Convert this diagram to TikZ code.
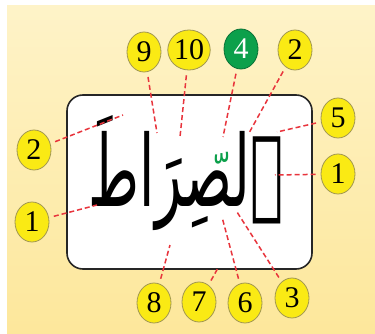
\documentclass[tikz,border=0pt]{standalone}
\usepackage{graphicx}
\usepackage{fontspec}
\setmainfont{Liberation Serif}
\newfontfamily\arabicfont[Script=Arabic]{DejaVu Sans}
\TeXXeTstate=1
\usetikzlibrary{shapes.geometric}
\definecolor{cbgtop}{RGB}{254,243,200}
\definecolor{cbgbot}{RGB}{253,231,155}
\definecolor{cball}{RGB}{250,234,20}
\definecolor{cedge}{RGB}{160,150,80}
\definecolor{cgreen}{RGB}{12,160,75}
\definecolor{cdash}{RGB}{232,52,60}
\tikzset{
  ball/.style={ellipse, fill=cball, draw=cedge, line width=0.8pt,
    minimum width=34pt, minimum height=40pt, inner sep=0pt,
    font=\fontsize{30}{30}\selectfont},
  greenball/.style={ball, fill=cgreen, draw=cgreen!70!black, text=white},
  pointer/.style={cdash, line width=1.5pt, dash pattern=on 5pt off 3pt, shorten <=5pt},
  wordbox/.style={draw=black!85, fill=white, line width=1.6pt, rounded corners=16pt}
}

\begin{document}
\begin{tikzpicture}[x=1pt,y=-1pt]
    % background
    \useasboundingbox (0,0) rectangle (375,334);
    \fill[white] (0,0) rectangle (375,334);
    \shade[top color=cbgtop, bottom color=cbgbot] (7,6) rectangle (375,334);
    % word in its box
    \node[wordbox, minimum width=245pt, minimum height=174pt] (box) at (189.5,182) {};
    \node[font=\arabicfont\fontsize{86}{86}\selectfont, inner sep=0pt, anchor=base] (word) at (186,207) {\scalebox{0.64}[1.15]{\beginR ٱلصِرَاطَ\endR}};
    \node[font=\arabicfont\fontsize{44}{44}\selectfont, text=cgreen, inner sep=0pt, anchor=base] (shadda) at (222,190) {ﹼ};
    % numbered balls
    \node[ball] (n9) at (144,52) {9};
    \node[ball] (n10) at (189,50) {10};
    \node[greenball] (n4) at (241,49) {4};
    \node[ball] (n2t) at (295,50) {2};
    \node[ball] (n5) at (338,118) {5};
    \node[ball] (n1r) at (338,174) {1};
    \node[ball] (n2l) at (34,150) {2};
    \node[ball] (n1l) at (32,222) {1};
    \node[ball] (n8) at (154,303) {8};
    \node[ball] (n7) at (199,302) {7};
    \node[ball] (n6) at (245,303) {6};
    \node[ball] (n3) at (292,298) {3};
    % points on the word
    \coordinate (p9) at (157,133);
    \coordinate (p10) at (180,137);
    \coordinate (p4) at (223,137);
    \coordinate (p2t) at (249,133);
    \coordinate (p5) at (277,132);
    \coordinate (p1r) at (275,175);
    \coordinate (p2l) at (123,115);
    \coordinate (p1l) at (97,205);
    \coordinate (p8) at (170,245);
    \coordinate (p7) at (218,268);
    \coordinate (p6) at (222,217);
    \coordinate (p3) at (237,212);
    % dashed pointers
    \foreach \k in {9,10,4,2t,5,1r,2l,1l,8,7,6,3}{
      \draw[pointer] (n\k) -- (p\k);
    }
\end{tikzpicture}
\end{document}
